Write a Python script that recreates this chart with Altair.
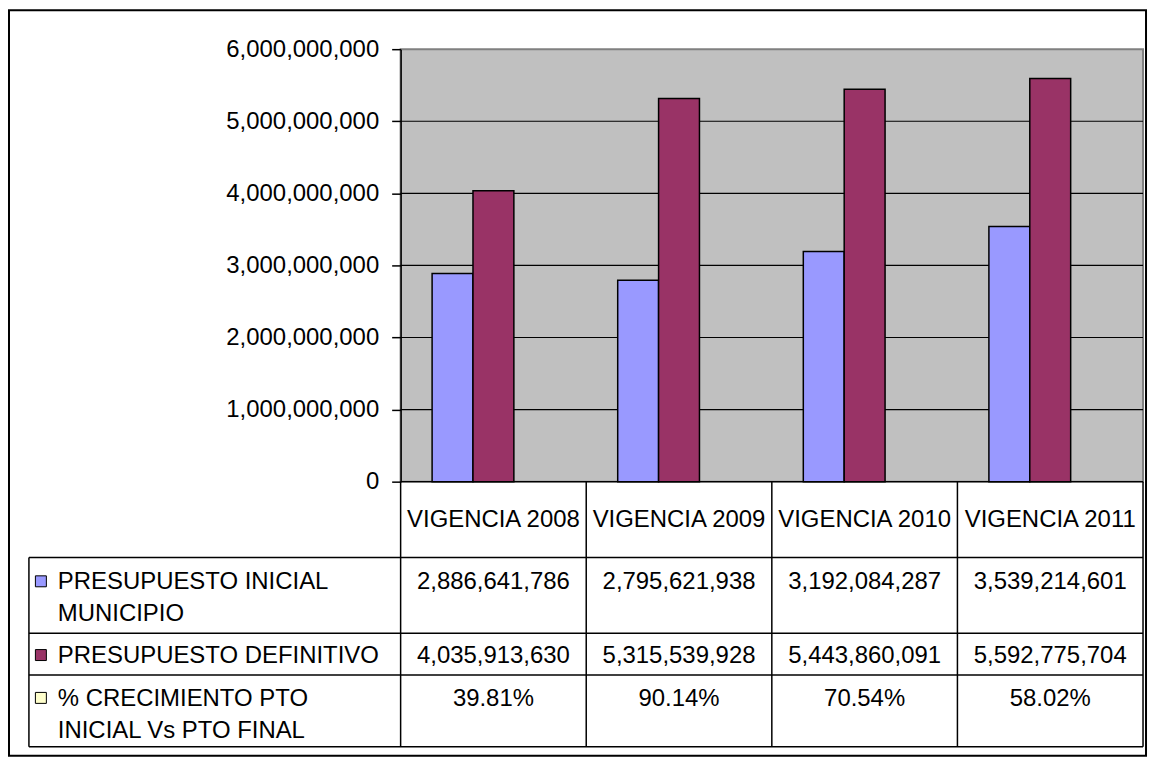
import altair as alt
import pandas as pd

# ---------------- data ----------------
categories = ["VIGENCIA 2008", "VIGENCIA 2009", "VIGENCIA 2010", "VIGENCIA 2011"]
series = [
    "PRESUPUESTO INICIAL MUNICIPIO",
    "PRESUPUESTO DEFINITIVO",
    "% CRECIMIENTO PTO INICIAL Vs PTO FINAL",
]
series_labels = [
    "PRESUPUESTO INICIAL\nMUNICIPIO",
    "PRESUPUESTO DEFINITIVO",
    "% CRECIMIENTO PTO\nINICIAL Vs PTO FINAL",
]
inicial = [2886641786, 2795621938, 3192084287, 3539214601]
definitivo = [4035913630, 5315539928, 5443860091, 5592775704]
crecimiento = [39.81, 90.14, 70.54, 58.02]
colors = ["#9999FF", "#993366", "#FFFFCC"]
y_ticks = [0, 1e9, 2e9, 3e9, 4e9, 5e9, 6e9]

# ---------------- layout ----------------
FONT = "Liberation Sans"
FS = 24
W = 745          # plot width
PH = 434         # bar area height
H = 700          # plot + table height
TABLE_LEFT = -373
ROW_LINES = [510, 586, 628, 700]
ROW_BASE = [542, 616, 659]
HEADER_BASE = 479

bar_rows = []
for i, c in enumerate(categories):
    bar_rows.append({"cat": c, "serie": series[0], "value": inicial[i]})
    bar_rows.append({"cat": c, "serie": series[1], "value": definitivo[i]})
bar_df = pd.DataFrame(bar_rows)

row_text = [
    [f"{v:,}" for v in inicial],
    [f"{v:,}" for v in definitivo],
    [f"{v:.2f}%" for v in crecimiento],
]

one = pd.DataFrame({"a": [0]})
yscale = alt.Scale(domain=[0, 6e9], range=[PH, 0], nice=False, zero=True)
xscale = alt.Scale(domain=categories, paddingInner=0, paddingOuter=0)
cscale = alt.Scale(domain=series, range=colors)

yaxis = alt.Axis(
    values=y_ticks, format=",.0f", grid=False, tickSize=9, labelPadding=13,
    domainColor="black", tickColor="black", domainWidth=1.5, tickWidth=1.5,
    labelFont=FONT, labelFontSize=FS, labelColor="black", labelBaseline="middle",
    title=None, zindex=1,
)

layers = []

# outer frame
layers.append(
    alt.Chart(one).mark_rect(fillOpacity=0, stroke="black", strokeWidth=2).encode(
        x=alt.value(-393), x2=alt.value(748), y=alt.value(-39), y2=alt.value(709)
    )
)

# plot background
layers.append(
    alt.Chart(one).mark_rect(fill="#C0C0C0", stroke="#808080", strokeWidth=2).encode(
        x=alt.value(0), x2=alt.value(W), y=alt.value(0), y2=alt.value(PH)
    )
)

# gridlines
layers.append(
    alt.Chart(pd.DataFrame({"v": y_ticks[:-1]})).mark_rule(color="black", strokeWidth=1.2).encode(
        y=alt.Y("v:Q", scale=yscale, axis=yaxis), x=alt.value(0), x2=alt.value(W)
    )
)

# bars
layers.append(
    alt.Chart(bar_df).mark_bar(stroke="black", strokeWidth=1.5).encode(
        x=alt.X("cat:N", scale=xscale, axis=None, sort=categories),
        xOffset=alt.XOffset("serie:N", scale=alt.Scale(domain=series, paddingInner=0, paddingOuter=0.77)),
        y=alt.Y("value:Q", scale=yscale, axis=yaxis),
        color=alt.Color("serie:N", scale=cscale, legend=None),
    )
)

# table vertical lines (category boundaries)
cat_df = pd.DataFrame({"cat": categories})
layers.append(
    alt.Chart(cat_df).mark_rule(color="black", strokeWidth=1.5).encode(
        x=alt.X("cat:N", scale=xscale, axis=None, bandPosition=0),
        y=alt.value(PH), y2=alt.value(H),
    )
)
layers.append(
    alt.Chart(one).mark_rule(color="black", strokeWidth=1.5).encode(
        x=alt.value(W), y=alt.value(PH), y2=alt.value(H)
    )
)
layers.append(
    alt.Chart(one).mark_rule(color="black", strokeWidth=1.5).encode(
        x=alt.value(TABLE_LEFT), y=alt.value(ROW_LINES[0]), y2=alt.value(H)
    )
)
for yl in ROW_LINES:
    layers.append(
        alt.Chart(one).mark_rule(color="black", strokeWidth=1.5).encode(
            x=alt.value(TABLE_LEFT), x2=alt.value(W), y=alt.value(yl)
        )
    )

# header text
layers.append(
    alt.Chart(cat_df).mark_text(font=FONT, fontSize=FS, color="black", align="center", baseline="alphabetic").encode(
        x=alt.X("cat:N", scale=xscale, axis=None, bandPosition=0.5),
        y=alt.value(HEADER_BASE),
        text="cat:N",
    )
)

# table rows
for r in range(3):
    df = pd.DataFrame({"cat": categories, "label": row_text[r]})
    layers.append(
        alt.Chart(df).mark_text(font=FONT, fontSize=FS, color="black", align="center", baseline="alphabetic").encode(
            x=alt.X("cat:N", scale=xscale, axis=None, bandPosition=0.5),
            y=alt.value(ROW_BASE[r]),
            text="label:N",
        )
    )
    hdf = pd.DataFrame({"serie": [series[r]], "label": [series_labels[r]]})
    layers.append(
        alt.Chart(hdf).mark_text(font=FONT, fontSize=FS, color="black", align="left", baseline="alphabetic",
                                 lineBreak="\n", lineHeight=32).encode(
            x=alt.value(-344), y=alt.value(ROW_BASE[r]), text="label:N"
        )
    )
    layers.append(
        alt.Chart(hdf).mark_square(size=121, filled=True, opacity=1, stroke="black", strokeWidth=1).encode(
            x=alt.value(-361), y=alt.value(ROW_BASE[r] - 8),
            color=alt.Color("serie:N", scale=cscale, legend=None),
        )
    )

chart = alt.layer(*layers).properties(
    width=W, height=H,
    autosize=alt.AutoSizeParams(type="none"),
    padding={"left": 394, "top": 40, "right": 8, "bottom": 12},
    background="white",
).configure_view(stroke=None)

chart.save("out.html", embed_options={"renderer": "svg", "actions": False})
